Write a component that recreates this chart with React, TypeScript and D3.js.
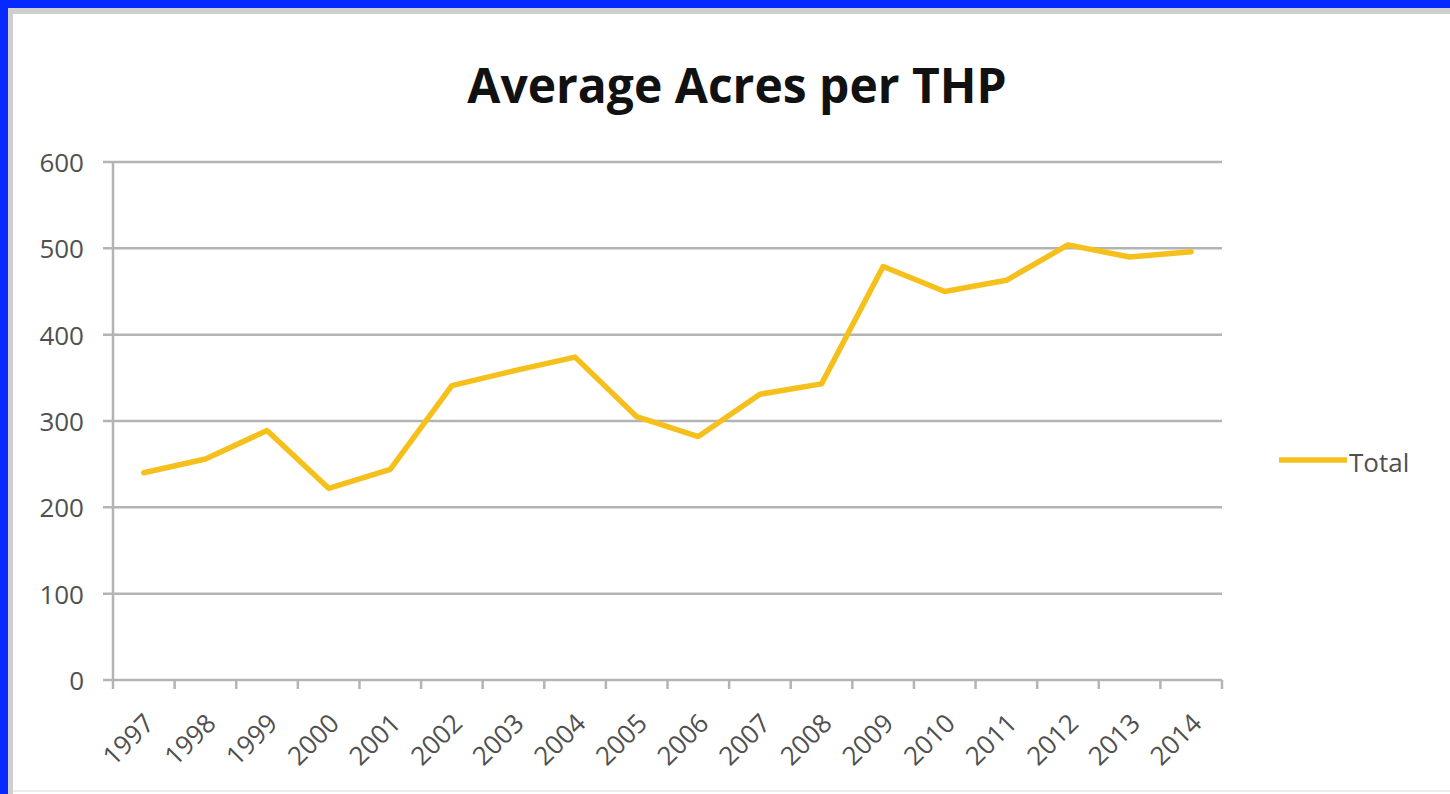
import React from "react";
import * as d3 from "d3";

const years = ["1997","1998","1999","2000","2001","2002","2003","2004","2005","2006","2007","2008","2009","2010","2011","2012","2013","2014"];
const totals = [240, 256, 289, 222, 244, 341, 358, 374, 305, 282, 331, 343, 479, 450, 463, 504, 490, 496];
const yTicks = [0, 100, 200, 300, 400, 500, 600];
const seriesName = "Total";
const title = "Average Acres per THP";

const W = 1450, H = 794;
const plot = { left: 113, right: 1222, top: 162, bottom: 680 };
const FONT = "'Open Sans', 'Noto Sans', sans-serif";

export default function App() {
  const x = d3.scaleBand<string>().domain(years).range([plot.left, plot.right]);
  const y = d3.scaleLinear().domain([0, 600]).range([plot.bottom, plot.top]);
  const line = d3.line<number>()
    .x((_, i) => (x(years[i]) as number) + x.bandwidth() / 2)
    .y((d) => y(d));
  const boundaries = years.map((yr) => x(yr) as number).concat([plot.right]);
  const grid = "#b4b4b4";
  const gold = "#F6C01C";
  return (
    <div style={{ position: "absolute", left: 0, top: 0, width: W, height: H }}>
      <svg width={W} height={H} style={{ display: "block" }}>
        <rect x={0} y={0} width={W} height={H} fill="#0629FF" />
        <rect x={8} y={8} width={W - 8} height={H - 8} fill="#cfcfcf" />
        <rect x={13} y={14} width={W - 13} height={H - 14} fill="#ffffff" />
        <line x1={13} x2={W} y1={791} y2={791} stroke="#ececec" strokeWidth={2} />
        <text x={737} y={103} textAnchor="middle" fontFamily={FONT} fontWeight={700} fontSize={48} fill="#111">{title}</text>
        {yTicks.map((t) => (
          <g key={t}>
            <line x1={plot.left - 10} x2={plot.right} y1={y(t)} y2={y(t)} stroke={grid} strokeWidth={2.5} />
            <text x={84} y={y(t)} textAnchor="end" dominantBaseline="central" fontFamily={FONT} fontSize={26} fill="#505050">{t}</text>
          </g>
        ))}
        <line x1={plot.left} x2={plot.left} y1={plot.top} y2={plot.bottom} stroke={grid} strokeWidth={2.5} />
        {boundaries.map((b, i) => (
          <line key={i} x1={b} x2={b} y1={plot.bottom} y2={plot.bottom + 9} stroke={grid} strokeWidth={2.5} />
        ))}
        {years.map((yr) => {
          const cx = (x(yr) as number) + x.bandwidth() / 2;
          return (
            <text key={yr} transform={`translate(${cx + 5},${plot.bottom + 38}) rotate(-45)`} textAnchor="end" dominantBaseline="central" fontFamily={FONT} fontSize={26} fill="#505050">{yr}</text>
          );
        })}
        <path d={line(totals) || ""} fill="none" stroke={gold} strokeWidth={5.5} strokeLinejoin="round" strokeLinecap="round" />
        <line x1={1279} x2={1347} y1={460} y2={460} stroke={gold} strokeWidth={5.5} />
        <text x={1349} y={462} dominantBaseline="central" fontFamily={FONT} fontSize={26} fill="#505050">{seriesName}</text>
      </svg>
    </div>
  );
}
